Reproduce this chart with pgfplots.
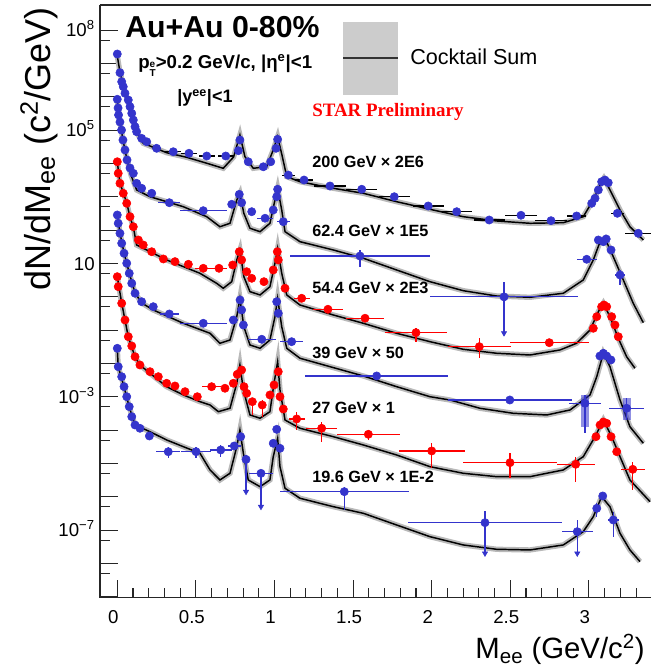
\documentclass[border=0pt]{standalone}
\usepackage{fontspec}
\setmainfont{Liberation Sans}
\newfontfamily\timesfont{Liberation Serif}
\usepackage{pgfplots}
\usepackage{pgfplotstable}
\pgfplotsset{compat=1.18}
\definecolor{cblue}{RGB}{52,52,204}
\definecolor{cred}{RGB}{255,0,0}
\definecolor{band}{RGB}{185,185,185}
\pgfplotsset{
 cock/.style={no marks, black, line width=1.1pt},
 cockband/.style={no marks, band, line width=4pt},
 dat/.style={only marks, mark=*, mark size=3.1pt, color=#1,
   error bars/x dir=both, error bars/x explicit, error bars/y dir=both, error bars/y explicit,
   error bars/error mark=none, error bars/error bar style={line width=0.9pt, #1}},
}
\begin{document}
% ---------------- cocktail sums ----------------
\pgfplotstableread{
x y
0 1.68e7
0.017 5.57e6
0.049 1.4e6
0.081 4.63e5
0.113 1.34e5
0.125 8.24e4
0.165 4.05e4
0.314 2.11e4
0.441 1.54e4
0.569 1.02e4
0.674 7.19e3
0.74 1.57e4
0.78 7.18e4
0.812 1.6e4
0.865 7.19e3
0.95 8.04e3
0.992 2.55e4
1.02 6.38e4
1.05 1.6e4
1.078 4.03e3
1.162 2.85e3
1.374 1.81e3
1.565 1.28e3
1.777 716
1.989 424
2.201 254
2.413 189
2.625 161
2.837 168
2.964 254
3.028 805
3.081 2.85e3
3.095 3.6e3
3.134 1.61e3
3.198 404
3.261 127
3.346 50.8
}\cA
\pgfplotstableread{
x y
0 8.05e5
0.017 1.76e5
0.036 5.08e4
0.062 1.28e4
0.087 4.53e3
0.123 1.61e3
0.208 1.01e3
0.42 507
0.569 254
0.653 127
0.717 161
0.76 805
0.78 1.28e3
0.805 321
0.844 114
0.908 90.2
0.971 161
1.003 805
1.02 1.81e3
1.046 404
1.067 90.2
1.162 45.2
1.374 25.5
1.565 14.4
1.777 6.4
1.989 2.85
2.201 1.53
2.413 1.06
2.625 0.97
2.837 1.28
2.964 3.21
3.028 12.8
3.071 45.2
3.102 57.1
3.155 16.0
3.219 3.21
3.282 0.641
3.346 0.168
}\cB
\pgfplotstableread{
x y
0 1.11e4
0.017 2.61e3
0.06 655
0.081 249
0.102 125
0.123 36
0.314 12.8
0.526 5.09
0.632 2.55
0.674 1.81
0.728 2.85
0.76 12.8
0.78 25.5
0.805 4.03
0.844 1.43
0.908 1.14
0.971 2.02
1.003 10.2
1.02 28.6
1.046 5.09
1.078 1.14
1.162 0.57
1.374 0.286
1.565 0.161
1.777 0.0807
1.989 0.0452
2.201 0.0267
2.413 0.0203
2.625 0.018
2.816 0.0255
2.922 0.0405
3.007 0.101
3.06 0.359
3.092 0.641
3.134 0.254
3.187 0.0571
3.24 0.016
3.293 7.2e-3
}\cC
\pgfplotstableread{
x y
0 286
0.017 82.4
0.043 20.7
0.076 5.2
0.113 1.31
0.155 0.655
0.229 0.404
0.42 0.161
0.59 0.0807
0.653 0.0405
0.717 0.0508
0.76 0.254
0.78 0.906
0.805 0.127
0.844 0.036
0.908 0.0286
0.971 0.0508
1.003 0.254
1.02 0.906
1.046 0.127
1.078 0.0286
1.162 0.0144
1.353 8.04e-3
1.565 4.23e-3
1.777 2.02e-3
1.989 1.01e-3
2.116 8.05e-4
2.307 4.54e-4
2.519 3.21e-4
2.732 2.86e-4
2.88 4.04e-4
3.007 1.14e-3
3.05 4.03e-3
3.092 0.0203
3.134 8.04e-3
3.198 8.05e-4
3.261 1.27e-4
3.346 4.05e-5
}\cD
\pgfplotstableread{
x y
0 3.94
0.028 0.655
0.049 0.202
0.07 0.0625
0.113 0.0157
0.144 9.04e-3
0.208 5.09e-3
0.314 2.02e-3
0.42 1.14e-3
0.526 7.16e-4
0.59 5.7e-4
0.643 3.59e-4
0.717 4.54e-4
0.76 2.55e-3
0.78 9.04e-3
0.802 1.61e-3
0.844 2.86e-4
0.908 2.28e-4
0.971 3.59e-4
0.997 2.55e-3
1.02 0.0113
1.035 1.61e-3
1.067 2.02e-4
1.162 1.14e-4
1.374 6.38e-5
1.565 3.6e-5
1.777 1.8e-5
1.989 8.04e-6
2.201 5.09e-6
2.413 4.03e-6
2.625 4.03e-6
2.837 6.4e-6
2.964 1.6e-5
3.039 6.38e-5
3.092 2.02e-4
3.145 6.38e-5
3.198 1.6e-5
3.261 3.21e-6
3.389 7.16e-7
}\cE
\pgfplotstableread{
x y
0 0.0273
0.006 8.04e-3
0.043 1.98e-3
0.076 4.97e-4
0.113 1.43e-4
0.208 9.0e-5
0.314 5.08e-5
0.42 3.2e-5
0.526 2.03e-5
0.59 6.4e-6
0.653 3.21e-6
0.717 5.09e-6
0.76 3.2e-5
0.78 1.01e-4
0.802 2.03e-5
0.833 3.21e-6
0.908 2.02e-6
0.971 3.21e-6
0.992 1.6e-5
1.02 5.71e-5
1.035 8.04e-6
1.067 1.81e-6
1.162 9.06e-7
1.374 5.07e-7
1.565 3.21e-7
1.777 1.43e-7
1.989 6.38e-8
2.201 3.6e-8
2.413 2.67e-8
2.625 2.55e-8
2.837 3.6e-8
2.964 9.02e-8
3.028 2.54e-7
3.081 1.01e-6
3.134 5.07e-7
3.198 8.07e-8
3.261 2.55e-8
3.325 1.14e-8
}\cF
% ---------------- data ----------------
\pgfplotstableread{
x y ex eyp eym
0 1.93e7 0 0 0
0.017 5.31e6 0 0 0
0.028 2.85e6 0 0 0
0.038 2.02e6 0 0 0
0.049 1.28e6 0 0 0
0.070 8.05e5 0 0 0
0.081 5.07e5 0 0 0
0.092 3.21e5 0 0 0
0.102 2.02e5 0 0 0
0.113 1.27e5 0 0 0
0.123 9.0e4 0 0 0
0.155 5.7e4 0 0 0
0.187 4.5e4 0 0 0
0.25 2.86e4 0.03 0 0
0.356 2.26e4 0.05 0 0
0.456 2.03e4 0.05 0 0
0.569 1.68e4 0.05 0 0
0.69 1.68e4 0.05 0 0
0.77 2.43e4 0 0 0
0.78 5.08e4 0 0 0
0.833 1.13e4 0.02 0 0
0.929 8.0e3 0.03 0 0
0.976 1.13e4 0 0 0
1.01 2.86e4 0 0 0
1.02 5.33e4 0 0 0
1.088 4.5e3 0.04 0 0
1.188 3.2e3 0.06 0 0
1.353 2.12e3 0.1 0 0
1.555 1.69e3 0.1 0 0
1.762 1.01e3 0.1 0 0
1.978 532 0.1 0 0
2.159 359 0.1 0 0
2.366 202 0.1 0 0
2.568 280 0.1 0 0
2.759 193 0.1 0 0
2.922 267 0.06 0 0
3.018 641 0 0 0
3.039 906 0 0 0
3.06 1.61e3 0 0 0
3.081 2.85e3 0 0 0
3.102 3.2e3 0 0 0
3.123 2.66e3 0 0 0
3.181 321 0.04 0 0
3.314 80.7 0.085 0 0
}\dA
\pgfplotstableread{
x y ex eyp eym
0 8.45e5 0 0 0
0.005 4.63e5 0 0 0
0.008 2.86e5 0 0 0
0.017 1.76e5 0 0 0
0.027 1.01e5 0 0 0
0.036 5.08e4 0 0 0
0.049 2.55e4 0 0 0
0.062 1.28e4 0 0 0
0.081 7.35e3 0 0 0
0.102 5.09e3 0 0 0
0.123 2.55e3 0 0 0
0.155 1.81e3 0 0 0
0.219 1.28e3 0.02 0 0
0.331 668 0.07 0 0
0.547 385 0.15 0 0
0.728 598 0.02 0 0
0.776 1.19e3 0 0 0
0.791 668 0 0 0
0.855 359 0 0 0
0.94 228 0.05 0 0
0.992 404 0 0 0
1.014 1.01e3 0 0 0
1.02 1.69e3 0 0 0
1.056 180 0.04 0 0
1.544 16.8 0.445 8.7 8.8
2.46 1.0 0.47 1.85 0.918
2.986 13.4 0.064 0 0
3.06 50.8 0 0 0
3.092 45.2 0 0 0
3.11 54.5 0 0 0
3.141 25.5 0 0 0
3.198 4.53 0.03 1.87 2.26
}\dB
\pgfplotstableread{
x y ex eyp eym
0 1.13e4 0 0 0
0.006 5.09e3 0 0 0
0.017 2.55e3 0 0 0
0.038 1.28e3 0 0 0
0.06 641 0 0 0
0.081 254 0 0 0
0.102 127 0 0 0
0.134 50.8 0 0 0
0.165 36 0 0 0
0.219 22.6 0 0 0
0.293 13.7 0 0 0
0.367 11.4 0 0 0
0.452 9.48 0 0 0
0.547 7.19 0.05 0 0
0.647 7.19 0.05 0 0
0.734 9.04 0 0 0
0.776 22.6 0 0 0
0.791 12.8 0 0 0
0.823 5.69 0 0 0
0.855 3.6 0 0 0
0.933 2.85 0 0 0
0.992 6.4 0 0 0
1.018 22.6 0 0 0
1.024 12.8 0 0 0
1.067 1.81 0 0 0
1.173 0.906 0.05 0 0
1.34 0.424 0.095 0 0
1.576 0.228 0.12 0 0
1.9 0.0841 0.2 0.032 0.040
2.303 0.032 0.2 0.026 0.0173
2.748 0.0422 0.25 0 0
3.028 0.114 0 0 0
3.05 0.254 0 0 0
3.081 0.507 0 0 0
3.096 0.57 0 0 0
3.113 0.507 0 0 0
3.145 0.254 0 0 0
3.166 0.143 0 0 0
3.187 0.0638 0 0 0
}\dC
\pgfplotstableread{
x y ex eyp eym
0 286 0 0 0
0.006 161 0 0 0
0.017 80.7 0 0 0
0.028 40.5 0 0 0
0.043 20.3 0 0 0
0.06 10.2 0 0 0
0.076 5.09 0 0 0
0.092 2.55 0 0 0
0.113 1.28 0 0 0
0.155 0.716 0 0 0
0.229 0.507 0 0 0
0.331 0.306 0.06 0 0
0.547 0.161 0.15 0 0
0.738 0.202 0.03 0 0
0.781 0.805 0 0 0
0.791 0.404 0 0 0
0.802 0.143 0 0 0
0.919 0.0533 0.09 0 0
1.014 0.716 0 0 0
1.024 0.321 0 0 0
1.109 0.0452 0.075 0 0
1.65 4.23e-3 0.455 0 0
2.497 8.05e-4 0.393 0 0
2.975 6.41e-4 0.1 5e-4 5.6e-4
3.07 0.0168 0 0 0
3.092 0.0203 0 0 0
3.113 0.0168 0 0 0
3.14 0.0128 0 0 0
3.24 4.54e-4 0.11 4.7e-4 2.5e-4
}\dD
\pgfplotstableread{
x y ex eyp eym
0 4.03 0 0 0
0.006 2.02 0 0 0
0.028 0.641 0 0 0
0.049 0.202 0 0 0
0.07 0.0638 0 0 0
0.092 0.0336 0 0 0
0.113 0.016 0 0 0
0.144 9.04e-3 0 0 0
0.208 5.69e-3 0 0 0
0.261 4.03e-3 0 0 0
0.314 2.55e-3 0 0 0
0.367 2.12e-3 0 0 0
0.431 1.43e-3 0 0 0
0.509 1.01e-3 0 0 0
0.6 2.02e-3 0.06 0 0
0.685 1.81e-3 0 0 0
0.738 2.55e-3 0 0 0
0.763 4.75e-3 0 0 0
0.791 6.4e-3 0 0 0
0.806 2.02e-3 0 0 0
0.823 1.28e-3 0 0 0
0.859 7.16e-4 0 2.1e-4 4.3e-4
0.922 5.7e-4 0 2.35e-4 3.16e-4
0.971 1.14e-3 0 0 0
0.997 2.27e-3 0 0 0
1.024 5.69e-3 0 0 0
1.035 1.01e-3 0 0 0
1.056 4.32e-4 0 0 0
1.141 2.17e-4 0.05 1.4e-4 1.16e-4
1.3 1.14e-4 0.1 6.6e-5 6.9e-5
1.597 7.53e-5 0.2 2.6e-5 2.45e-5
2.0 2.38e-5 0.21 1.66e-5 1.66e-5
2.498 1.06e-5 0.3 9.6e-6 7e-6
2.916 9.48e-6 0.12 6.5e-6 6.6e-6
3.045 6.38e-5 0 0 0
3.071 1.43e-4 0 0 0
3.092 1.76e-4 0 0 0
3.113 1.61e-4 0 0 0
3.141 6.38e-5 0 0 0
3.177 2.26e-5 0 0 0
3.279 6.7e-6 0.075 4.6e-6 5.1e-6
}\dE
\pgfplotstableread{
x y ex eyp eym
0 0.0286 0 0 0
0.006 8.02e-3 0 0 0
0.028 4.02e-3 0 0 0
0.043 2.02e-3 0 0 0
0.06 1.01e-3 0 0 0
0.076 5.07e-4 0 0 0
0.092 2.54e-4 0 0 0
0.113 1.43e-4 0 0 0
0.144 1.14e-4 0 0 0
0.204 6.7e-5 0 0 0
0.324 2.26e-5 0.075 9.4e-6 8.2e-6
0.501 2.26e-5 0.095 9e-6 8e-6
0.658 2.55e-5 0.07 1.05e-5 9.5e-6
0.744 3.36e-5 0.04 0 0
0.785 6.38e-5 0 0 0
0.819 1.33e-5 0 4.7e-6 1.19e-5
0.914 5.08e-6 0.077 1.3e-6 4.57e-6
0.992 4.04e-5 0 0 0
1.014 1.06e-4 0 0 0
1.035 2.86e-5 0 0 0
1.444 1.43e-6 0.41 5.9e-7 1.03e-6
2.339 1.68e-7 0.49 2.15e-7 1.48e-7
2.926 9.02e-8 0.1 1.12e-7 7e-8
3.05 4.52e-7 0 1.9e-7 2e-7
3.088 1.06e-6 0 0 0
3.155 2.02e-7 0.035 1.56e-7 1.38e-7
}\dF
\begin{tikzpicture}
\begin{axis}[
 scale only axis, width=413.25pt, height=444.5pt,
 xmin=-0.11, xmax=3.395,
 ymode=log, ymin=9.44e-10, ymax=5.7e8,
 axis x line*=bottom, axis y line*=left,
 axis line style={line width=1pt, black!85, -},
 tick align=inside, major tick length=13.5pt, minor tick length=7.5pt,
 tick style={line width=0.8pt, black!85},
 xtick={0,0.5,1,1.5,2,2.5,3}, xticklabels={0,0.5,1,1.5,2,2.5,3},
 minor xtick={0.1,0.2,0.3,0.4,0.6,0.7,0.8,0.9,1.1,1.2,1.3,1.4,1.6,1.7,1.8,1.9,2.1,2.2,2.3,2.4,2.6,2.7,2.8,2.9,3.1,3.2,3.3},
 ytick={1e-9,1e-8,1e-7,1e-6,1e-5,1e-4,1e-3,1e-2,1e-1,1,10,1e2,1e3,1e4,1e5,1e6,1e7,1e8},
 yticklabels={,,10\textsuperscript{−7},,,,10\textsuperscript{−3},,,,10,,,,10\textsuperscript{5},,,10\textsuperscript{8}},
 minor ytick={5e-9,5e-8,5e-7,5e-6,5e-5,5e-4,5e-3,5e-2,5e-1,5,50,5e2,5e3,5e4,5e5,5e6,5e7},
 xticklabel style={font=\fontsize{14}{16}\selectfont, anchor=north, inner sep=0pt, yshift=-9.2pt, xshift=-3pt},
 yticklabel style={font=\fontsize{14}{16}\selectfont, anchor=base east, inner sep=0pt, xshift=-3.75pt, yshift=-5pt},
 xlabel={M\textsubscript{ee} (GeV/c\textsuperscript{2})},
 xlabel style={font=\fontsize{22}{24}\selectfont, at={(axis description cs:0.989,-0.1034)}, anchor=base east, inner sep=0pt},
 ylabel={dN/dM\textsubscript{ee} (c\textsuperscript{2}/GeV)},
 ylabel style={font=\fontsize{27}{30}\selectfont, at={(axis description cs:-0.0907,0.9966)}, anchor=base east, inner sep=0pt},
]
\coordinate (TL) at (rel axis cs:0,1);
\coordinate (TR) at (rel axis cs:1,1);
% cocktail bands and lines
\addplot[cockband] table {\cA};
\addplot[cockband] table {\cB};
\addplot[cockband] table {\cC};
\addplot[cockband] table {\cD};
\addplot[cockband] table {\cE};
\addplot[cockband] table {\cF};
\addplot[cock] table {\cA};
\addplot[cock] table {\cB};
\addplot[cock] table {\cC};
\addplot[cock] table {\cD};
\addplot[cock] table {\cE};
\addplot[cock] table {\cF};
% systematic boxes (39 GeV)
\addplot[only marks, mark=none, error bars/y dir=both, error bars/y explicit, error bars/error mark=none,
  error bars/error bar style={line width=6pt, cblue, opacity=0.55}]
  coordinates {(2.975,6.41e-4) += (0,5e-4) -= (0,5.2e-4) (3.24,4.54e-4) += (0,4.7e-4) -= (0,2.5e-4)};
% data
\addplot[dat=cblue, error bars/error bar style={line width=0.8pt, black}] table[x=x,y=y,x error=ex,y error plus=eyp,y error minus=eym] {\dA};
\addplot[dat=cblue] table[x=x,y=y,x error=ex,y error plus=eyp,y error minus=eym] {\dB};
\addplot[dat=cred] table[x=x,y=y,x error=ex,y error plus=eyp,y error minus=eym] {\dC};
\addplot[dat=cblue] table[x=x,y=y,x error=ex,y error plus=eyp,y error minus=eym] {\dD};
\addplot[dat=cred] table[x=x,y=y,x error=ex,y error plus=eyp,y error minus=eym] {\dE};
\addplot[dat=cblue] table[x=x,y=y,x error=ex,y error plus=eyp,y error minus=eym] {\dF};
% upper-limit arrow heads
\addplot[only marks, mark=triangle*, mark size=2.3pt, cblue, mark options={rotate=180}]
  coordinates {(2.46,0.082) (0.819,1.43e-6) (0.914,5.06e-7) (2.339,2.02e-8) (2.926,2.02e-8)};
\end{axis}
\draw[line width=1pt, black!85] (TL) -- (TR);
\begin{scope}[shift={(TL)}, xshift=-75pt, yshift=3.75pt, x=0.75pt, y=-0.75pt]
\node[anchor=base west, inner sep=0pt, font=\fontsize{22.7}{26}\selectfont\bfseries] at (125,37.7) {Au+Au 0-80\%};
\node[anchor=base west, inner sep=0pt, font=\fontsize{14}{15}\selectfont\bfseries] at (138,68.3) {p\raisebox{-0.45em}{\fontsize{7.5}{8}\selectfont\begin{tabular}[b]{@{}l@{}}e\\[-1pt]T\end{tabular}}>0.2 GeV/c, |η\textsuperscript{e}|<1};
\node[anchor=base west, inner sep=0pt, font=\fontsize{13.5}{15}\selectfont\bfseries] at (177,103) {|y\textsuperscript{ee}|<1};
\node[anchor=base west, inner sep=0pt, text=cred, font=\timesfont\fontsize{14.2}{16}\selectfont\bfseries] at (312,117) {STAR Preliminary};
\fill[black!20] (343,22) rectangle (398,95);
\draw[line width=1.1pt, black!80] (343,58) -- (398,58);
\node[anchor=base west, inner sep=0pt, font=\fontsize{16.2}{18}\selectfont] at (410,65) {Cocktail Sum};
\begin{scope}[every node/.style={anchor=base west, inner sep=0pt, font=\fontsize{12.2}{14}\selectfont\bfseries}]
\node at (312,167.3) {200 GeV × 2E6};
\node at (312,237) {62.4 GeV × 1E5};
\node at (312,293.6) {54.4 GeV × 2E3};
\node at (312,358.6) {39 GeV × 50};
\node at (312,413.6) {27 GeV × 1};
\node at (312,482.6) {19.6 GeV × 1E-2};
\end{scope}
\pgfresetboundingbox
\path[use as bounding box] (0,0) rectangle (651,669);
\end{scope}
\end{tikzpicture}
\end{document}
